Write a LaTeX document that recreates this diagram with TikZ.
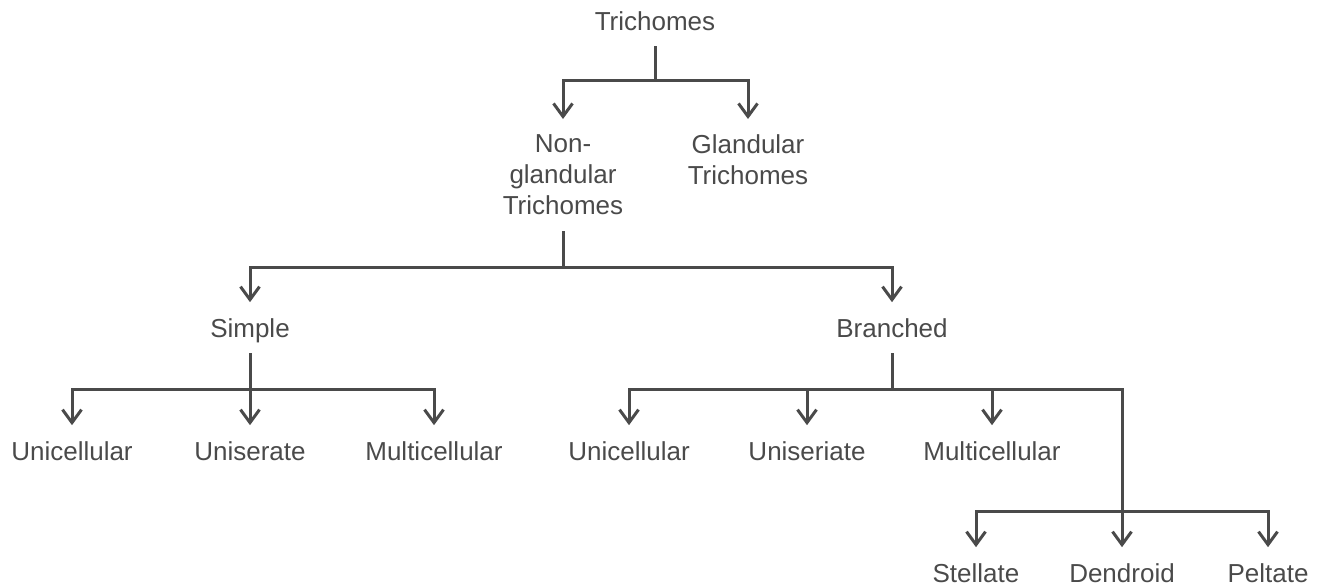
\documentclass[tikz,border=0pt]{standalone}
\usepackage{fontspec}
\setmainfont{Liberation Sans}
\usetikzlibrary{arrows.meta}
\definecolor{ink}{HTML}{4A4A4A}
\begin{document}
\begin{tikzpicture}[x=0.5pt,y=-0.5pt,
   txt/.style={font=\fontsize{13}{15.5}\selectfont,text=ink,inner sep=0pt,outer ysep=8pt,align=center},
   item/.style={txt,text depth=0pt},
   wire/.style={draw=ink,line width=1.5pt},
   arr/.style={wire,-{Straight Barb[length=6.5pt,width=9.5pt]}}]
   \useasboundingbox (0,0) rectangle (1322,586);

   \node[item,anchor=base] (root) at (655,30) {Trichomes};
   \node[txt,anchor=north] (nong) at (563,119) {Non-\\glandular\\Trichomes};
   \node[txt,anchor=north] (gland) at (748,119) {Glandular\\Trichomes};

   \node[item,anchor=base] (simple) at (250,337) {Simple};
   \node[item,anchor=base] (branch) at (892,337) {Branched};

   \node[item,anchor=base] (suni) at (72,460) {Unicellular};
   \node[item,anchor=base] (sser) at (250,460) {Uniserate};
   \node[item,anchor=base] (smul) at (434,460) {Multicellular};

   \node[item,anchor=base] (buni) at (629,460) {Unicellular};
   \node[item,anchor=base] (bser) at (807,460) {Uniseriate};
   \node[item,anchor=base] (bmul) at (992,460) {Multicellular};

   \node[item,anchor=base] (stell) at (976,582) {Stellate};
   \node[item,anchor=base] (dendr) at (1122,582) {Dendroid};
   \node[item,anchor=base] (pelt) at (1268,582) {Peltate};

   \coordinate (j0) at (655,80);
   \coordinate (j1) at (563,267);
   \coordinate (j2) at (250,389);
   \coordinate (j3) at (892,389);
   \coordinate (j4) at (1122,511);

   \draw[wire] (root) -- (j0);
   \draw[arr] (j0) -| (nong);
   \draw[arr] (j0) -| (gland);

   \draw[wire] (nong) -- (j1);
   \draw[arr] (j1) -| (simple);
   \draw[arr] (j1) -| (branch);

   \draw[wire] (simple) -- (j2);
   \draw[arr] (j2) -| (suni);
   \draw[arr] (j2) -- (sser);
   \draw[arr] (j2) -| (smul);

   \draw[wire] (branch) -- (j3);
   \draw[arr] (j3) -| (buni);
   \draw[arr] (j3) -| (bser);
   \draw[arr] (j3) -| (bmul);
   \draw[wire] (j3) -| (j4);

   \draw[arr] (j4) -| (stell);
   \draw[arr] (j4) -- (dendr);
   \draw[arr] (j4) -| (pelt);
\end{tikzpicture}
\end{document}
